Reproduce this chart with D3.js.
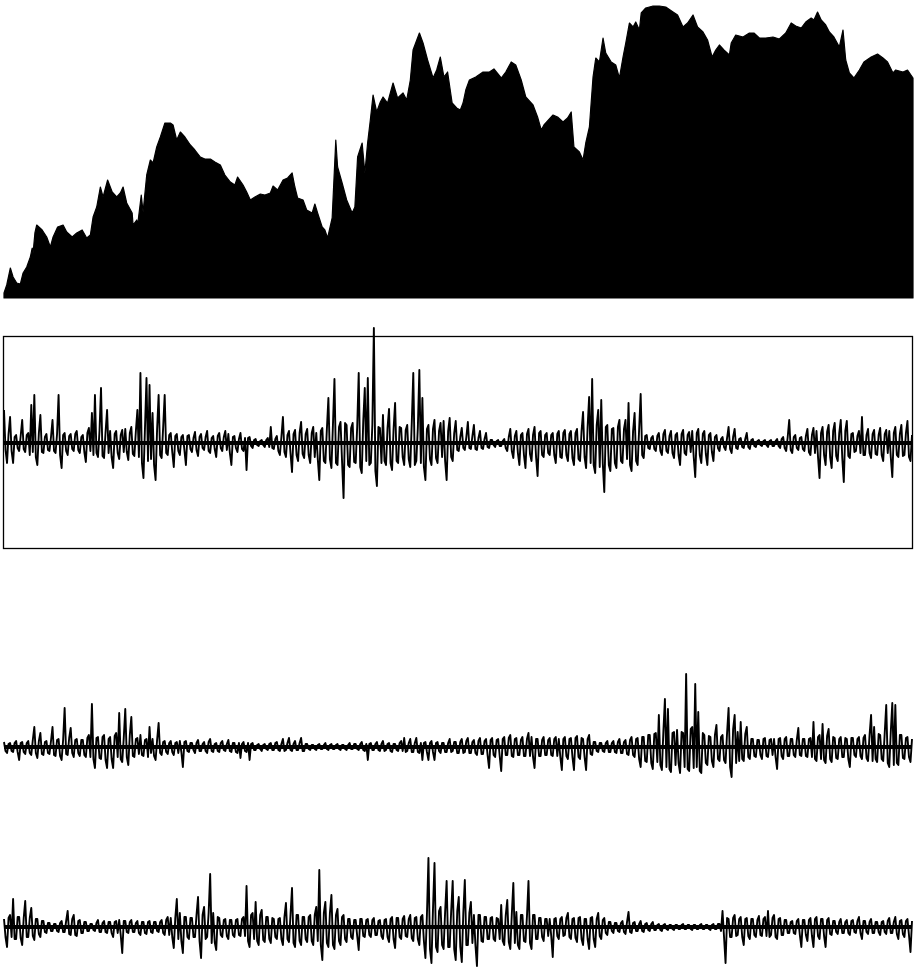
<!DOCTYPE html>
<html>
<head>
<meta charset="utf-8">
<script src="https://cdn.jsdelivr.net/npm/d3@7"></script>
<style>
  html, body { margin: 0; padding: 0; background: #fff; }
  svg { display: block; }
</style>
</head>
<body>
<div id="chart"></div>
<script>
// price index: trading day and level
const priceDay = [0,3,7,10,14,18,21,25,29,31,32,34,36,42,47,51,54,59,65,69,75,80,86,91,95,98,102,106,109,114,
  119,124,128,131,135,141,142,146,147,151,153,157,161,164,168,172,177,183,186,190,194,199,205,210,216,221,227,232,238,243,
  249,254,257,263,267,271,276,282,287,293,296,301,307,312,317,320,323,329,333,339,342,345,350,353,356,361,365,367,372,377,
  383,386,389,394,397,400,403,406,410,414,417,422,428,433,439,443,447,450,457,461,466,472,476,480,484,488,493,498,502,505,
  508,512,519,527,534,539,547,552,558,563,569,574,582,587,591,594,604,609,615,620,624,627,633,637,640,644,648,651,655,659,
  662,668,673,677,681,684,688,692,695,699,701,706,714,721,728,736,741,747,752,758,763,769,774,779,783,787,792,798,800,805,
  813,820,825,831,838,846,853,860,866,871,877,882,888,891,895,899,904,908,913,919,923,926,930,935,941,946,954,961,967,972,
  978,981,989,994,1000];
const priceLevel = [5,13,30,21,15,14,25,31,41,50,45,65,73,68,61,51,61,71,73,66,61,65,68,60,63,81,91,111,101,118,
  106,101,105,111,95,85,73,78,73,103,86,123,138,135,151,161,175,175,173,158,166,161,153,148,141,139,139,136,133,123,
  116,113,121,113,106,98,101,104,103,105,112,108,118,120,125,111,100,98,88,85,94,85,71,68,60,80,158,131,115,98,
  85,91,141,155,125,155,178,203,186,196,201,195,215,200,205,198,218,248,265,255,238,220,228,241,221,226,195,190,188,195,
  208,218,221,226,226,229,220,226,236,233,218,201,193,181,168,173,183,181,176,180,186,151,146,138,155,171,221,240,236,260,
  245,236,233,220,241,255,275,271,276,268,285,290,292,292,291,286,283,271,275,283,271,266,258,241,248,253,248,243,255,263,
  261,265,265,260,260,261,259,265,275,272,270,276,280,278,286,278,273,266,261,251,268,238,225,220,228,236,241,244,240,236,
  225,228,226,228,220];

// daily returns, three sub-periods (tenths of a percent)
const retA = [
  33,-7,-20,9,26,-8,-20,6,8,-5,-8,7,23,-6,-9,8,10,-12,38,-9,48,-14,-22,10,28,-9,-10,6,9,-7,-8,6,23,-8,-10,9,48,-12,-25,8,
  10,-8,-12,7,9,-6,-8,9,12,-7,-10,6,8,-9,-19,10,15,-8,30,-12,48,-10,-14,12,55,-13,-15,11,33,-10,12,-14,-25,9,12,-10,-16,8,13,-9,
  14,-9,-17,10,16,-11,-13,12,33,-14,70,-20,-35,15,65,-18,58,-16,30,-22,-37,14,48,-12,-15,16,48,-10,-12,8,10,-9,-24,7,9,-8,-12,6,8,-7,
  -22,7,8,-6,-9,5,11,-7,-13,6,9,-5,-7,6,12,-8,-10,5,7,-6,-14,7,10,-5,-8,6,12,-7,9,-10,-22,6,7,-5,-9,4,10,-6,-8,5,
  -27,5,6,-3,-5,3,4,-2,-3,2,3,-2,-4,3,5,-4,16,-5,-6,4,7,-8,-12,6,26,-9,-14,8,12,-10,-29,9,13,-12,-18,10,21,-11,-15,9,
  14,-12,-20,10,16,-14,10,-16,-37,12,15,-18,-20,14,45,-16,-25,18,64,-20,-22,16,21,-18,-55,20,18,-22,-24,15,20,-19,-20,16,70,-24,-30,22,55,-18,
  65,-22,-20,18,115,-28,-43,16,15,-20,28,-18,-22,15,34,-20,-27,14,40,-18,-20,16,15,-14,-22,13,18,-16,-24,20,70,-22,-18,15,73,-20,45,-24,-37,14,
  18,-16,-22,14,23,-15,-20,12,20,-14,22,-18,-37,12,25,-14,-18,10,22,-7,-8,6,15,-5,-7,6,21,-5,-6,7,18,-6,-7,5,12,-5,-6,4,10,-4,
  -5,3,3,-2,-4,2,3,-3,-3,2,4,-5,-8,6,14,-8,-15,7,12,-10,-22,8,10,-12,-25,9,14,-11,-18,8,16,-14,-33,10,12,-12,-14,8,10,-10,
  -12,8,10,-12,-20,9,12,-14,-15,10,13,-12,-18,9,12,-15,-22,10,14,-16,-18,12,31,-14,-25,16,46,-20,64,-22,-30,18,33,-24,43,-20,-49,16,18,-22,
  -28,14,15,-20,-25,16,23,-18,-20,14,23,-16,40,-22,-28,12,30,-18,-22,14,49,-12,-15,7,8,-5,-6,5,7,-6,-8,7,10,-8,-12,9,13,-8,-10,7,
  12,-10,-15,8,10,-12,-22,9,13,-10,-12,8,11,-9,12,-14,-34,10,14,-12,-20,9,12,-11,-22,8,10,-9,-18,6,8,-5,-8,4,6,-4,-7,5,16,-6,
  -10,6,14,-5,-6,4,5,-4,-5,4,10,-4,-6,3,4,-3,-4,2,3,-2,-3,2,3,-2,-4,2,3,-3,-3,2,4,-3,-5,4,6,-5,-8,6,23,-7,
  -10,6,8,-5,-7,5,6,-6,-8,7,14,-9,-12,8,15,-10,12,-14,-35,10,16,-12,-22,11,18,-14,-25,12,20,-13,-18,10,23,-15,-39,12,22,-13,-15,9,
  10,-9,-8,7,12,-10,26,-12,-12,8,14,-10,-15,9,13,-11,-12,8,15,-12,-18,9,13,-10,12,-14,-34,10,16,-12,-14,9,18,-13,-12,10,22,-14,-18,8];

const retB = [
  5,-4,-6,3,4,-4,-5,4,6,-5,-13,4,5,-5,-7,4,6,-6,-8,7,20,-6,-11,6,14,-7,-8,5,6,-6,-7,6,20,-8,-9,7,8,-9,-13,7,
  39,-7,-8,9,19,-6,-10,7,8,-6,-9,7,7,-8,-10,9,12,-10,43,-12,-21,9,10,-11,-12,10,12,-13,-21,8,10,-12,-21,11,14,-10,34,-12,-15,9,
  38,-10,-18,12,30,-9,-10,8,9,-7,12,-8,-9,7,8,-10,20,-6,8,-9,-13,7,24,-6,-8,5,6,-5,-7,4,6,-5,-8,4,5,-6,6,-5,-20,5,
  6,-4,-5,4,4,-3,-6,4,7,-4,-4,3,5,-4,-6,5,8,-4,-5,3,4,-4,-5,4,6,-3,-4,3,7,-4,-5,4,4,-5,-6,4,-11,3,5,-4,
  -5,4,-13,3,4,-3,-3,2,3,-2,-4,2,3,-2,-3,3,4,-3,-3,4,5,-3,-4,3,8,-4,-3,4,9,-3,-4,3,6,-3,-3,4,9,-4,-4,3,
  3,-2,-3,2,2,-2,-3,2,3,-2,-2,2,4,-2,-3,2,3,-2,-2,2,3,-2,-3,2,2,-2,-3,2,4,-2,-2,3,3,-2,-3,3,5,-3,-4,3,
  -13,3,4,-3,-3,3,5,-3,-4,3,6,-4,-3,3,4,-4,-5,3,3,-3,-4,4,6,-4,9,-5,-4,4,8,-5,-5,4,9,-5,-6,4,-13,4,5,-5,
  -13,4,6,-5,-13,4,5,-4,-6,4,4,-5,-5,4,8,-5,-4,5,5,-6,-6,5,8,-6,-5,6,9,-6,-6,5,7,-6,-8,6,9,-7,-7,6,8,-8,
  -21,7,9,-8,-10,7,8,-9,-24,8,10,-8,-8,9,12,-9,-10,8,9,-8,-8,7,10,-9,-9,8,14,-9,10,-10,-21,8,8,-9,-9,7,10,-8,-8,7,
  9,-8,-9,8,10,-9,8,-10,-23,8,10,-9,-12,8,9,-10,-23,9,11,-10,-12,9,8,-10,-23,8,12,-7,-8,5,5,-4,-5,4,4,-4,-5,4,6,-5,
  -5,4,6,-5,-6,5,8,-6,-6,5,7,-7,-8,7,10,-8,-10,8,9,-12,-20,10,10,-14,-15,12,12,-16,-22,13,14,-15,32,-18,-23,16,48,-20,38,-22,
  -25,14,15,-18,17,-16,-26,15,14,-20,73,-22,-24,18,20,-21,63,-20,35,-24,-26,14,12,-16,-18,11,10,-14,-20,12,22,-12,-14,10,12,-13,-16,14,39,-20,
  -30,18,32,-16,15,-14,25,-12,-14,13,20,-10,-12,8,8,-9,-10,7,7,-8,-12,8,9,-9,-10,7,8,-8,8,-10,-22,8,9,-9,-12,8,10,-9,-9,8,
  8,-8,-10,7,19,-8,-9,8,8,-9,-10,8,9,-10,25,-12,-14,10,12,-12,23,-13,-16,11,18,-12,-15,10,9,-11,-12,8,10,-10,-10,9,8,-12,-20,9,
  9,-8,-10,8,10,-9,-12,9,12,-11,-14,12,32,-14,20,-12,-15,13,12,-12,-14,14,42,-16,-20,15,44,-18,42,-16,-18,12,12,-11,-12,9,10,-10,-15,8];

const retC = [
  8,-10,-20,9,12,-10,28,-12,-12,10,10,-11,-18,9,26,-10,-10,9,19,-9,-13,8,8,-7,-10,6,6,-5,-6,4,4,-4,-4,3,3,-4,-5,4,6,-5,
  -5,6,16,-7,-8,8,12,-8,-9,6,7,-6,-6,5,5,-4,-4,3,3,-3,-4,4,7,-5,-5,4,6,-5,-6,5,5,-6,-10,5,6,-6,7,-8,-26,6,
  6,-5,-6,5,7,-5,-5,4,6,-6,-8,5,5,-6,-7,5,6,-5,-6,5,5,-4,-5,5,7,-6,-8,7,10,-8,9,-10,-21,9,28,-12,14,-14,-26,10,
  10,-10,-12,9,9,-10,-10,12,30,-14,-31,12,20,-12,-10,14,53,-16,14,-15,-23,10,9,-8,-10,7,8,-9,-12,7,7,-8,-10,7,8,-8,-9,8,10,-9,
  41,-14,-20,12,14,-12,25,-14,-18,12,17,-13,-15,10,10,-12,-16,9,8,-10,-12,8,9,-12,-18,10,24,-12,-15,12,39,-16,-20,12,12,-14,-18,10,10,-12,
  -15,10,12,-14,-18,12,20,-14,57,-18,-33,14,25,-16,-20,14,32,-18,-22,12,18,-14,-18,10,12,-12,-15,8,8,-10,-12,7,7,-9,-23,8,8,-9,-10,7,
  8,-8,-10,7,9,-8,-8,6,7,-9,-12,7,8,-10,-15,8,10,-12,-21,9,9,-10,-12,8,11,-9,-10,8,12,-11,-14,9,10,-12,-18,10,12,-14,-31,12,
  69,-22,-36,18,64,-20,-25,16,20,-18,-22,15,46,-20,-20,16,46,-22,-33,16,30,-20,-35,14,47,-18,-18,14,25,-16,12,-18,-39,12,12,-14,-15,10,10,-12,
  -12,9,10,-12,-14,9,8,-12,22,-14,-18,12,27,-15,-22,13,44,-16,15,-18,-22,12,12,-14,-15,11,46,-16,-22,12,12,-12,-12,9,9,-10,-14,8,8,-9,
  8,-9,-30,8,9,-9,-12,8,10,-9,-8,9,14,-10,-12,8,9,-11,-15,9,10,-12,-18,8,8,-12,-22,9,10,-12,-20,8,14,-9,-12,7,9,-6,-8,5,
  5,-4,-6,4,4,-4,-5,4,6,-5,-7,5,15,-5,-6,4,5,-4,-4,3,6,-4,-5,3,4,-3,-4,3,5,-3,-3,2,3,-3,-4,2,3,-2,-3,2,
  2,-2,-3,2,2,-2,-2,2,3,-2,-2,2,2,-2,-3,2,2,-2,-2,2,3,-2,-2,2,2,-2,-3,2,3,-2,-2,3,3,-4,16,-10,-36,9,8,-10,
  -10,9,12,-9,-8,8,10,-10,-18,8,9,-9,-12,8,8,-8,-10,7,11,-8,-9,8,10,-9,16,-10,-8,9,12,-10,-12,8,9,-8,-8,7,7,-6,-6,5,
  6,-6,-7,6,8,-8,-20,7,7,-8,-14,7,9,-9,-20,8,10,-9,-12,8,8,-9,-20,7,9,-7,-8,6,6,-5,-7,5,8,-6,-6,5,7,-6,-8,6,
  7,-5,-6,6,10,-6,-12,6,6,-5,-7,5,8,-6,-6,5,5,-5,-8,5,6,-5,-7,6,9,-6,-6,5,10,-7,-12,6,7,-7,-10,6,8,-8,-25,6];

const width = 916;
const height = 967;
const left = 4;
const right = 912;

const svg = d3.select('#chart')
  .append('svg')
  .attr('width', width)
  .attr('height', height)
  .attr('viewBox', `0 0 ${width} ${height}`);

// top panel: filled price area
const xPrice = d3.scaleLinear()
  .domain([0, 1000])
  .range([left, right + 1]);

const yPrice = d3.scaleLinear()
  .domain([0, 298])
  .range([298, 0]);

const priceData = priceDay.map((d, i) => ({ day: d, level: priceLevel[i] }));

const area = d3.area()
  .x(d => xPrice(d.day))
  .y0(yPrice(0))
  .y1(d => yPrice(d.level));

svg.append('path')
  .datum(priceData)
  .attr('fill', '#000')
  .attr('stroke', '#000')
  .attr('stroke-width', 1.2)
  .attr('stroke-linejoin', 'round')
  .attr('d', area);

// return panels
function drawReturns(values, center) {
  const x = d3.scaleLinear()
    .domain([0, values.length - 1])
    .range([left, right]);

  const y = d3.scaleLinear()
    .domain([-100, 100])
    .range([center + 100, center - 100]);

  const line = d3.line()
    .x((d, i) => x(i))
    .y(d => y(d));

  svg.append('line')
    .attr('x1', left)
    .attr('x2', right)
    .attr('y1', y(0))
    .attr('y2', y(0))
    .attr('stroke', '#000')
    .attr('stroke-width', 4);

  svg.append('path')
    .datum(values)
    .attr('fill', 'none')
    .attr('stroke', '#000')
    .attr('stroke-width', 1.9)
    .attr('stroke-linejoin', 'round')
    .attr('d', line);
}

// framed middle panel
svg.append('rect')
  .attr('x', 3.5)
  .attr('y', 336.5)
  .attr('width', 909)
  .attr('height', 212)
  .attr('fill', 'none')
  .attr('stroke', '#000')
  .attr('stroke-width', 1.3);

drawReturns(retA, 443);
drawReturns(retB, 747);
drawReturns(retC, 927);
</script>
</body>
</html>
